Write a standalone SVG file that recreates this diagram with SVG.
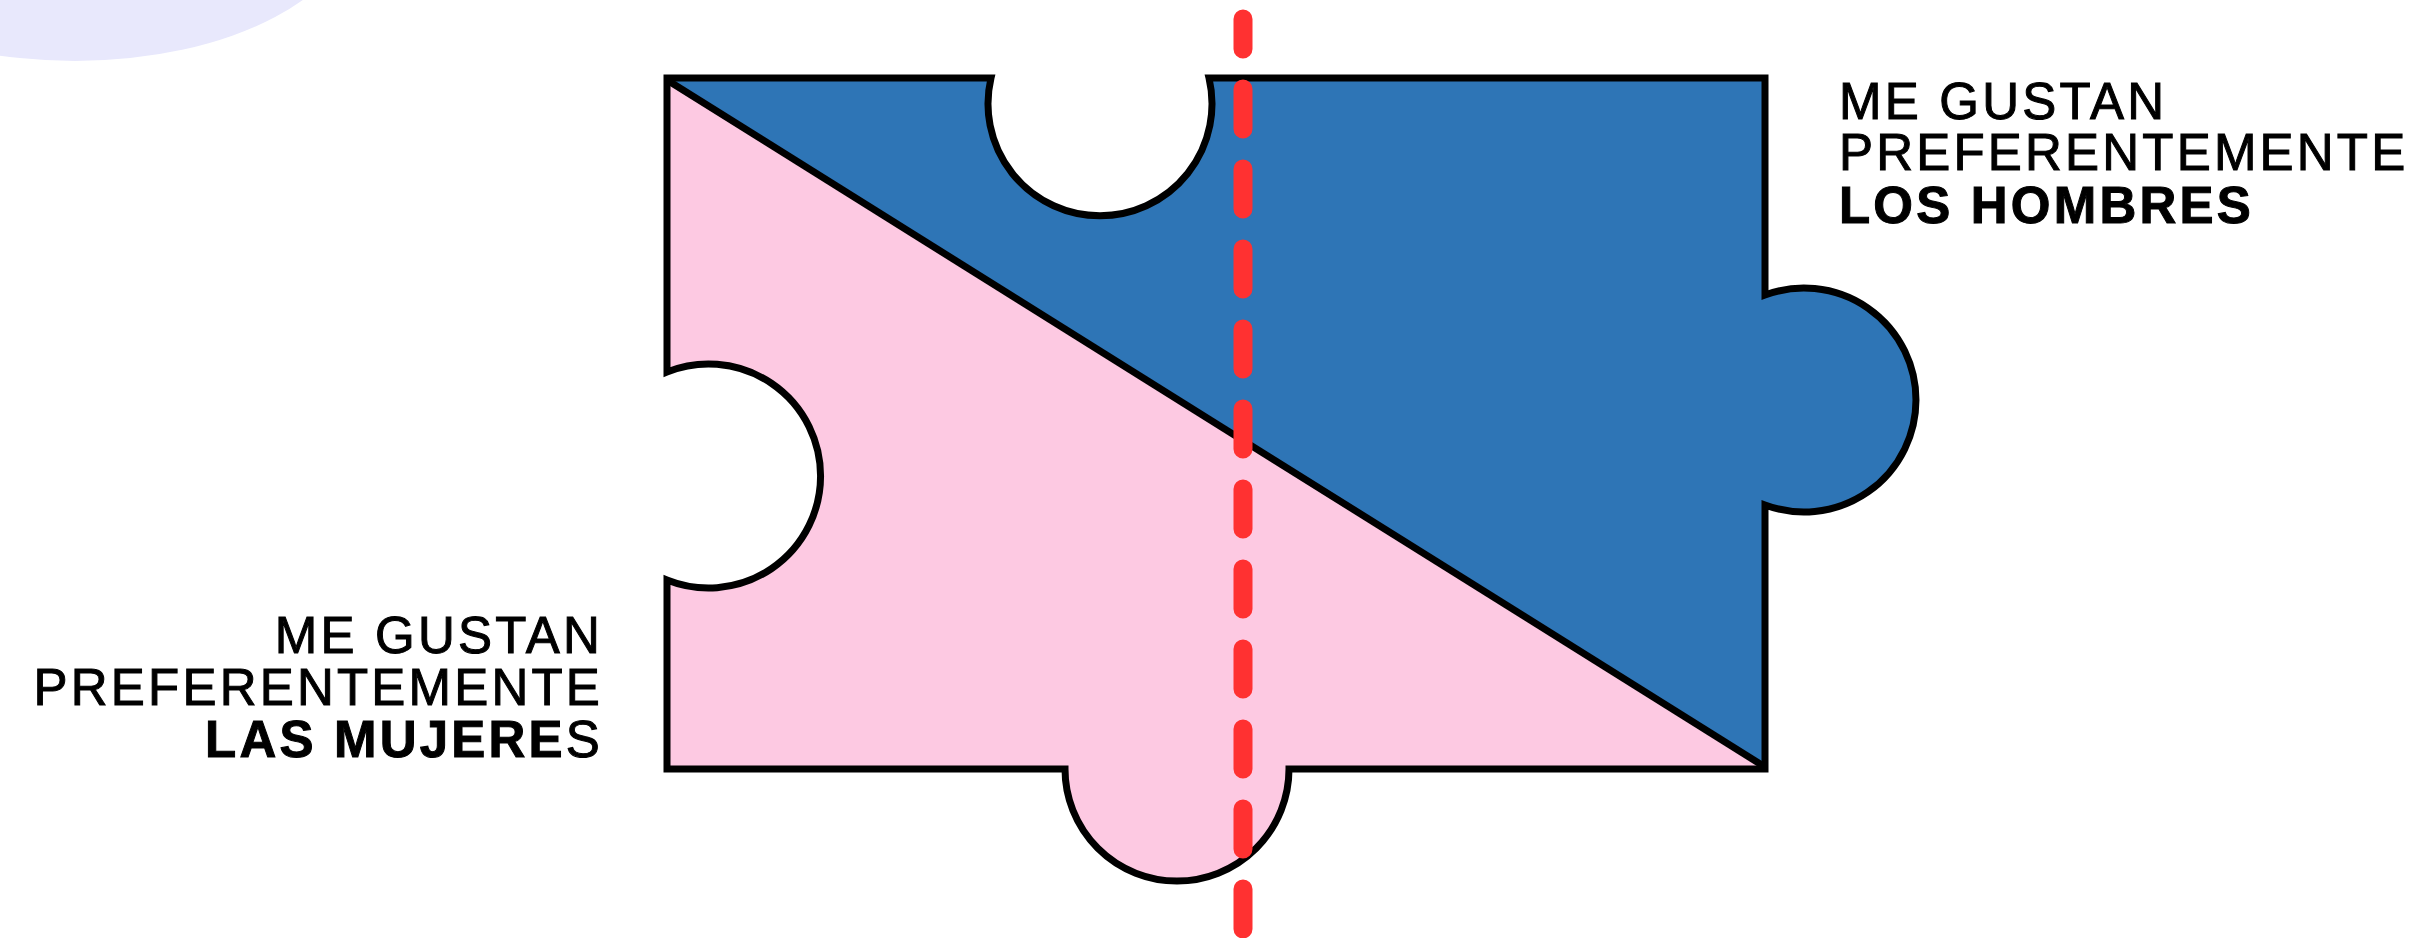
<svg xmlns="http://www.w3.org/2000/svg" width="2428" height="938" viewBox="0 0 2428 938">
  <style>
    .lbl { font-family: "Liberation Sans", Arial, sans-serif; font-size: 51px; fill: #000; stroke: #000; stroke-width: 1; letter-spacing: 3.2px; }
    .b { font-weight: bold; }
    .n { font-weight: normal; }
    .outline { fill: none; stroke: #000; stroke-width: 7; stroke-linejoin: miter; }
  </style>
  <defs>
    <path id="piecePath" d="M667,78 H991 A112,112 0 1,0 1209,78 H1765 V295 A112,112 0 1,1 1765,505 V769 H1289 A112,112 0 1,1 1065,769 H667 V580 A112,112 0 1,0 667,372 V78 Z"/>
    <clipPath id="pieceClip">
      <use href="#piecePath"/>
    </clipPath>
  </defs>
  <rect width="2428" height="938" fill="#ffffff"/>
  <g id="background-blob">
    <ellipse cx="75" cy="-89" rx="283" ry="150" fill="#e8e8fc"/>
  </g>
  <g id="puzzle-piece">
    <use href="#piecePath" fill="#fdc9e2"/>
    <polygon points="600,38 2000,914 2000,0 600,0" fill="#2e75b6" clip-path="url(#pieceClip)"/>
    <line x1="667" y1="80" x2="1765" y2="767" stroke="#000" stroke-width="7"/>
    <use href="#piecePath" class="outline"/>
  </g>
  <g id="label-hombres">
    <text class="lbl" x="1839" y="119">ME GUSTAN</text>
    <text class="lbl" x="1839" y="170">PREFERENTEMENTE</text>
    <text class="lbl b" x="1839" y="223">LOS HOMBRES</text>
  </g>
  <g id="label-mujeres">
    <text class="lbl" x="603" y="653" text-anchor="end">ME GUSTAN</text>
    <text class="lbl" x="603" y="705" text-anchor="end">PREFERENTEMENTE</text>
    <text class="lbl" x="603" y="757" text-anchor="end"><tspan class="b">LAS MUJERE</tspan><tspan class="n">S</tspan></text>
  </g>
  <g id="connectors">
    <line x1="1243" y1="19" x2="1243" y2="960" stroke="#ff3131" stroke-width="19" stroke-linecap="round" stroke-dasharray="40 40" stroke-dashoffset="10"/>
  </g>
</svg>
